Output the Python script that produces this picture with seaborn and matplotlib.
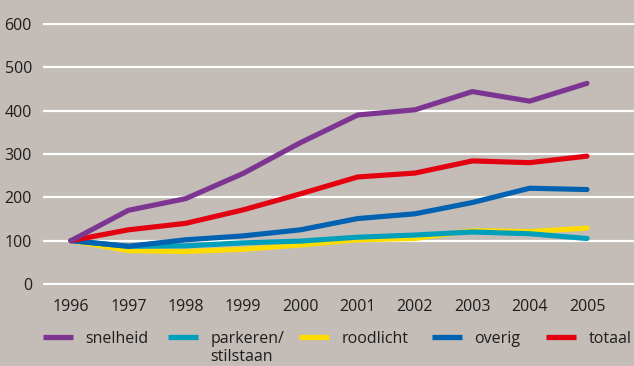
import matplotlib
matplotlib.use("Agg")
import matplotlib.pyplot as plt
import seaborn as sns
import pandas as pd

years = [1996, 1997, 1998, 1999, 2000, 2001, 2002, 2003, 2004, 2005]
snelheid = [100, 170, 197, 255, 326, 390, 402, 444, 422, 463]
parkeren = [100, 87, 88, 95, 99, 108, 113, 120, 116, 105]
roodlicht = [100, 77, 75, 80, 90, 102, 105, 123, 121, 129]
overig = [100, 87, 102, 111, 125, 151, 162, 188, 221, 218]
totaal = [100, 125, 140, 171, 208, 247, 256, 284, 280, 295]

labels = ["snelheid", "parkeren/", "roodlicht", "overig", "totaal"]
colors = ["#7d3592", "#00a0bc", "#ffdc00", "#0062b1", "#e3000f"]
yticks = [0, 100, 200, 300, 400, 500, 600]

df = pd.DataFrame({"jaar": years, "snelheid": snelheid, "parkeren/": parkeren,
                   "roodlicht": roodlicht, "overig": overig, "totaal": totaal})
long = df.melt(id_vars="jaar", var_name="categorie", value_name="index")

bg = "#c3bcb7"
ink = "#1e1e1e"
sns.set_theme(style="white")
plt.rcParams["font.family"] = ["Open Sans", "DejaVu Sans"]

fig = plt.figure(figsize=(6.34, 3.66), dpi=100, facecolor=bg)
W, H = 634, 366
ppu = 260 / 600
y0_px, ylo, yhi = 284, -3, 603
top_px = y0_px - yhi * ppu
bot_px = y0_px - ylo * ppu
ax = fig.add_axes([43 / W, 1 - bot_px / H, 1 - 43 / W, (bot_px - top_px) / H])
ax.set_facecolor(bg)

xstep = (587 - 71) / 9
ax.set_xlim(1996 - 28 / xstep, 2005 + 47 / xstep)
ax.set_ylim(ylo, yhi)

for y in yticks:
    ax.axhline(y, color="white", lw=1.6, zorder=0)

# draw order: lower series first so the upper ones sit on top
order = ["roodlicht", "parkeren/", "overig", "totaal", "snelheid"]
palette = dict(zip(labels, colors))
for name in order:
    sub = long[long["categorie"] == name]
    sns.lineplot(data=sub, x="jaar", y="index", color=palette[name], lw=3.7,
                 ax=ax, legend=False, solid_capstyle="round", zorder=3)

for s in ax.spines.values():
    s.set_visible(False)
ax.set_xticks(years)
ax.set_xticklabels([str(y) for y in years])
ax.set_yticks(yticks)
ax.set_yticklabels([str(y) for y in yticks])
ax.tick_params(axis="x", direction="in", length=6, width=1.3, color="white",
               pad=10, labelsize=11.5, labelcolor=ink)
ax.tick_params(axis="y", length=0, pad=8, labelsize=11.5, labelcolor=ink)
ax.set_xlabel("")
ax.set_ylabel("")

# one legend per entry so each sits at its own horizontal position
entry_x = [43, 168, 299, 432, 546]
for lab, col, xp in zip(labels, colors, entry_x):
    h = plt.Line2D([], [], color=col, lw=3.8, solid_capstyle="butt")
    leg = fig.legend([h], [lab], loc="center left",
                     bbox_to_anchor=(xp / W, 1 - 339 / H), frameon=False,
                     fontsize=11.5, handlelength=1.9, handletextpad=0.75,
                     borderpad=0, borderaxespad=0)
    for t in leg.get_texts():
        t.set_color(ink)

fig.text(210 / W, 1 - 361 / H, "stilstaan", fontsize=11.5, color=ink,
         ha="left", va="baseline")

fig.savefig("out.png", dpi=100, facecolor=bg)
